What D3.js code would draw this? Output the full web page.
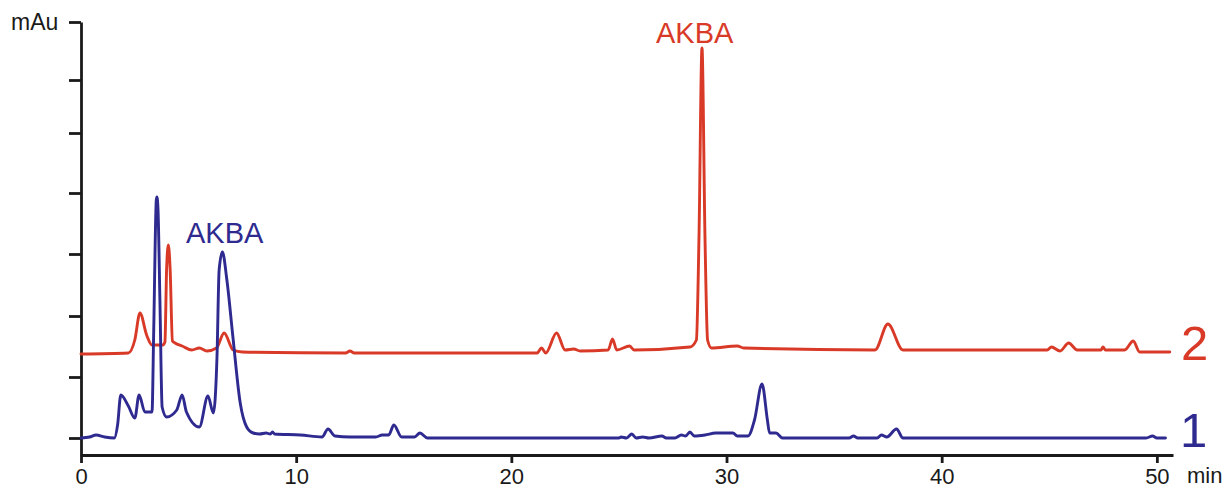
<!DOCTYPE html>
<html lang="en">
<head>
    <meta charset="UTF-8">
    <title>HPLC chromatogram – AKBA</title>
    <script src="https://d3js.org/d3.v7.min.js"></script>
    <style>
        body { margin: 0; background: #fff; }
        svg text { font-family: "Liberation Sans", Arial, sans-serif; }
        .axis path, .axis line { stroke: #1a1a1a; stroke-width: 2.8; }
        .axis text { font-size: 22px; fill: #1a1a1a; }
        .trace { fill: none; stroke-width: 2.9; stroke-linejoin: round; stroke-linecap: round; }
    </style>
</head>
<body>
<div id="chart"></div>
<script>
// ---- data (time in min, signal in arbitrary mAu units) ----
const time1 = [0, 0.4, 0.7, 1.1, 1.55, 1.7, 1.85, 2.2, 2.5, 2.7, 2.97, 3.3, 3.38, 3.5, 3.53, 3.58, 3.67, 3.77,
    3.98, 4.45, 4.7, 4.9, 5.5, 5.9, 6.15, 6.32, 6.42, 6.57, 6.78, 7.06, 7.4, 7.7, 8.0, 8.3, 8.6, 8.8, 8.9, 9.0,
    10.2, 11.2, 11.48, 11.8, 12.5, 13.7, 14.0, 14.3, 14.54, 14.9, 15.5, 15.75, 16.1, 25.0, 25.1, 25.35, 25.6,
    25.8, 26.1, 26.4, 27.0, 27.2, 27.6, 27.9, 28.1, 28.3, 28.5, 29.0, 29.5, 30.3, 30.5, 31.0, 31.3, 31.65,
    31.9, 32.0, 32.3, 32.6, 35.7, 35.9, 36.1, 37.0, 37.2, 37.45, 37.9, 38.2, 49.5, 49.8, 50.0, 50.4];
const signal1 = [0, 1, 3, 1, 0, 13, 43, 32, 20, 43, 26, 26, 108, 238, 241, 228, 135, 31,
    21, 28, 43, 26, 11, 42, 25, 81, 168, 186, 158, 101, 35, 11, 5, 4, 5, 4, 6, 4,
    3, 1, 9, 2, 1, 1, 3, 3, 13, 1, 1, 5, 0, 0, 1, 0, 4,
    0, 1, 0, 2, 0, 0, 3, 2, 6, 2, 3, 5, 5, 2, 2, 18, 54,
    18, 5, 5, 0, 0, 2, 0, 0, 3, 1, 9, 0, 0, 2, 0, 0];

const time2 = [0, 2.2, 2.5, 2.74, 3.05, 3.3, 3.8, 3.9, 3.98, 4.06, 4.14, 4.25, 4.37, 4.7, 5.15, 5.5, 5.85,
    6.3, 6.65, 7.07, 7.5, 12.3, 12.5, 12.7, 21.2, 21.4, 21.6, 22.1, 22.5, 22.9, 23.2, 24.5, 24.7, 24.9,
    25.5, 25.7, 28.3, 28.6, 28.72, 28.86, 29.0, 29.12, 29.3, 30.5, 30.8, 36.9, 37.5, 38.2, 44.9, 45.1,
    45.5, 45.9, 46.3, 47.4, 47.5, 47.6, 48.5, 48.9, 49.2, 50.6];
const signal2 = [84, 85, 98, 125, 103, 93, 93, 96, 170, 193, 170, 97, 95, 92, 88, 90, 87,
    90, 105, 88, 86, 85, 87, 85, 85, 90, 85, 105, 88, 89, 87, 88, 99, 88,
    92, 88, 91, 98, 200, 390, 200, 98, 90, 92, 90, 88, 114, 88, 88, 91,
    87, 95, 88, 88, 91, 88, 88, 97, 86, 86];

const xTicks = [0, 10, 20, 30, 40, 50];
const yTicks = [0, 61, 122, 184, 245, 305, 358, 416];   // unlabelled tick marks

const traceNames = ['1', '2'];
const peakLabel = 'AKBA';

// ---- layout ----
const W = 1225, H = 488;
const blue = '#2e2a8f', red = '#d93a28';

const x = d3.scaleLinear().domain([0, 50.75]).range([81, 1173]);
const y = d3.scaleLinear().domain([-17, 416]).range([455, 22]);

const svg = d3.select('#chart').append('svg')
    .attr('width', W).attr('height', H);

// axes
svg.append('g').attr('class', 'axis')
    .attr('transform', `translate(0,${y(-17)})`)
    .call(d3.axisBottom(x).tickValues(xTicks).tickSize(8).tickSizeOuter(0).tickPadding(5));

svg.append('g').attr('class', 'axis')
    .attr('transform', `translate(${x(0)},0)`)
    .call(d3.axisLeft(y).tickValues(yTicks).tickSize(12).tickSizeOuter(0).tickFormat(''));

svg.append('text').attr('x', 11).attr('y', 30)
    .attr('font-size', 23).attr('fill', '#1a1a1a').text('mAu');
svg.append('text').attr('x', 1187).attr('y', 483)
    .attr('font-size', 22).attr('fill', '#1a1a1a').text('min');

// traces
const line = d3.line().curve(d3.curveMonotoneX);

svg.append('path').attr('class', 'trace').attr('stroke', red)
    .attr('d', line(time2.map((t, i) => [x(t), y(signal2[i])])));
svg.append('path').attr('class', 'trace').attr('stroke', blue)
    .attr('d', line(time1.map((t, i) => [x(t), y(signal1[i])])));

// labels
svg.append('text').attr('x', 186).attr('y', 243)
    .attr('font-size', 29).attr('fill', blue).text(peakLabel);
svg.append('text').attr('x', 656).attr('y', 43)
    .attr('font-size', 29).attr('fill', red).text(peakLabel);

svg.append('text').attr('x', 1180).attr('y', 447)
    .attr('font-size', 49).attr('fill', blue).text(traceNames[0]);
svg.append('text').attr('x', 1181).attr('y', 360)
    .attr('font-size', 49).attr('fill', red).text(traceNames[1]);
</script>
</body>
</html>
